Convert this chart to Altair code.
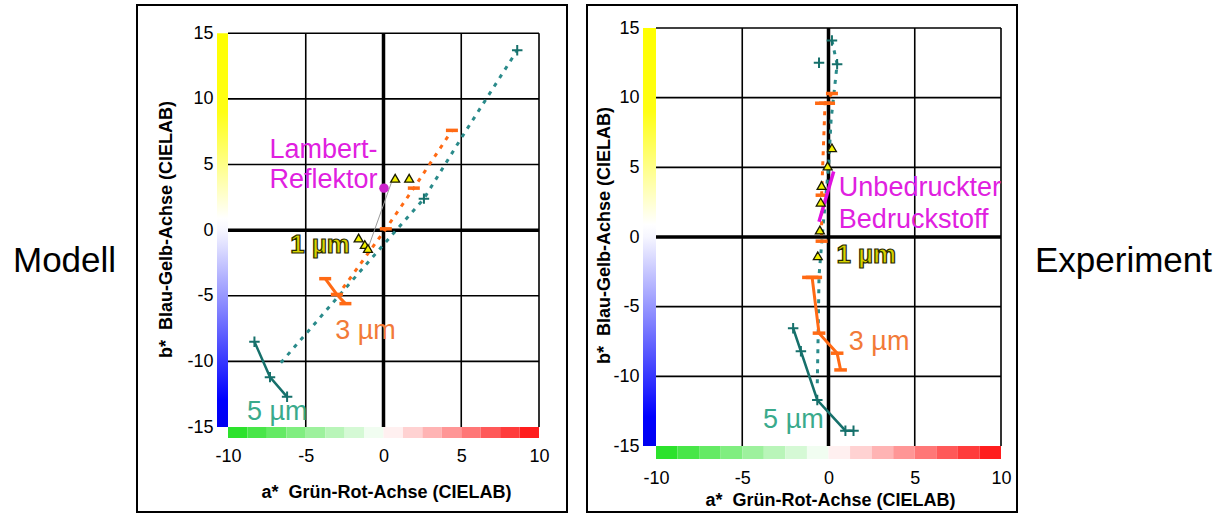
import altair as alt
import pandas as pd

FONT = "Liberation Sans"

# ---------------- Modell (left panel) ----------------
M_TEAL_DOT_A = [-6.6, -2.5, 0.6, 2.6, 5.1, 8.6]
M_TEAL_DOT_B = [-10.1, -4.5, -0.3, 2.4, 7.2, 13.7]
M_TEAL_DOT_PLUS_A = [2.6, 8.6]
M_TEAL_DOT_PLUS_B = [2.4, 13.7]
M_TEAL_A = [-8.3, -7.3, -6.2]
M_TEAL_B = [-8.5, -11.2, -12.7]
M_ORANGE_DOT_A = [-2.6, 0.15, 1.95, 4.4]
M_ORANGE_DOT_B = [-4.4, 0.1, 3.2, 7.6]
M_ORANGE_DOT_MARK_A = [0.15, 1.95, 4.4]
M_ORANGE_DOT_MARK_B = [0.1, 3.2, 7.6]
M_ORANGE_A = [-3.75, -3.0, -2.45]
M_ORANGE_B = [-3.7, -4.9, -5.6]
M_TRI_A = [-1.6, -1.2, -1.0, 0.75, 1.65]
M_TRI_B = [-0.6, -1.1, -1.4, 3.95, 3.95]
M_THIN_A = [-1.0, 0.5]
M_THIN_B = [-1.4, 3.6]
M_LAMBERT_A = [0.03]
M_LAMBERT_B = [3.2]
M_MAG_TEXT = ["Lambert-", "Reflektor"]
M_MAG_TEXT_A = [-7.33, -7.33]
M_MAG_TEXT_B = [5.53, 3.2]
M_1UM_A, M_1UM_B = [-6.0], [-1.75]
M_3UM_A, M_3UM_B = [-3.11], [-8.3]
M_5UM_A, M_5UM_B = [-8.78], [-14.5]

# ---------------- Experiment (right panel) ----------------
E_TEAL_DOT_A = [0.2, 0.5, 0.15, 0.0, -0.3, -0.55, -0.6, -0.65]
E_TEAL_DOT_B = [14.1, 12.4, 8.4, 5.0, 1.0, -2.8, -7.0, -10.5]
E_TEAL_DOT_PLUS_A = [0.2, 0.5, -0.55]
E_TEAL_DOT_PLUS_B = [14.1, 12.4, 12.5]
E_TEAL_A = [-2.05, -1.6, -0.65, 0.98, 1.45]
E_TEAL_B = [-6.55, -8.2, -11.7, -13.9, -13.9]
E_ORANGE_DOT_A = [0.2, -0.2, -0.4, -0.4]
E_ORANGE_DOT_B = [10.3, 9.6, 3.0, -0.3]
E_ORANGE_A = [-0.95, -0.55, 0.5, 0.7]
E_ORANGE_B = [-2.9, -6.9, -8.34, -9.54]
E_ORANGE_WIDE_A = [-0.2, -0.95]
E_ORANGE_WIDE_B = [9.6, -2.9]
E_TRI_A = [0.2, -0.05, -0.4, -0.45, -0.5, -0.62]
E_TRI_B = [6.4, 5.1, 3.7, 2.5, 0.5, -1.35]
E_MAG_A = [-0.55, 0.3]
E_MAG_B = [1.1, 4.7]
E_MAG_TEXT = ["Unbedruckter", "Bedruckstoff"]
E_MAG_TEXT_A = [0.6, 0.6]
E_MAG_TEXT_B = [2.96, 0.68]
E_1UM_A, E_1UM_B = [0.46], [-1.85]
E_3UM_A, E_3UM_B = [1.18], [-8.1]
E_5UM_A, E_5UM_B = [-3.79], [-13.73]

# ---------------- axes / grid / colour bars ----------------
TICKS_A = [-10, -5, 0, 5, 10]
TICKS_B = [-15, -10, -5, 0, 5, 10, 15]
GRID_A = [-5, 5, 10]
GRID_B = [-10, -5, 5, 10, 15]
XBAR_START = [-10, -8.75, -7.5, -6.25, -5, -3.75, -2.5, -1.25,
              0, 1.25, 2.5, 3.75, 5, 6.25, 7.5, 8.75]
XBAR_STEP = 1.25

TEAL = "#16706b"
TEAL_DOT = "#2a8a8a"
ORANGE = "#ff6a14"
MAGENTA = "#e020e0"
PLUS = "M-1,0L1,0M0,-1L0,1"
DASH = "M-1,0L1,0"


def df(a, b):
    return pd.DataFrame({"a": a, "b": b, "i": list(range(len(a)))})


def panel(P):
    W, H = P["w"], P["h"]
    xs = alt.Scale(domain=[-10, 10], nice=False, zero=False)
    ys = alt.Scale(domain=P["ydom"], nice=False, zero=False)
    xax = alt.Axis(values=TICKS_A, ticks=False, domain=False, grid=False,
                   labelFlush=False, labelOverlap=False,
                   labelExpr="'' + datum.value",
                   labelPadding=P["xlabpad"], labelFontSize=18, labelFont=FONT,
                   labelColor="black",
                   title="a*\u00a0 Grün-Rot-Achse (CIELAB)", titleFont=FONT,
                   titleFontSize=18, titleFontWeight="bold", titleColor="black",
                   titleX=P["xtx"], titleY=P["xty"], titleBaseline="alphabetic")
    yax = alt.Axis(values=TICKS_B, ticks=False, domain=False, grid=False,
                   labelFlush=False, labelOverlap=False,
                   labelExpr="'' + datum.value",
                   labelPadding=P["ylabpad"], labelFontSize=18, labelFont=FONT,
                   labelColor="black",
                   title="b*\u00a0 Blau-Gelb-Achse (CIELAB)", titleFont=FONT,
                   titleFontSize=18, titleFontWeight="bold", titleColor="black",
                   titleX=P["ytx"], titleY=P["yty"], titleAngle=270,
                   titleBaseline="alphabetic")

    def X(f="a"):
        return alt.X(f"{f}:Q", scale=xs, axis=xax)

    def Y(f="b"):
        return alt.Y(f"{f}:Q", scale=ys, axis=yax)

    layers = []
    # colour bar along a*
    xb = pd.DataFrame({"a": XBAR_START})
    xb["a2"] = xb["a"] + XBAR_STEP
    xb["c"] = xb["a"] + XBAR_STEP / 2
    layers.append(alt.Chart(xb).mark_rect().encode(
        x=X("a"), x2="a2:Q", y=alt.value(H), y2=alt.value(H + P["barw"]),
        color=alt.Color("c:Q", legend=None,
                        scale=alt.Scale(type="linear", domain=[-10, 0, 10],
                                        interpolate="rgb",
                                        range=["#1ee01e", "#ffffff", "#ff0e0e"]))))
    # colour bar along b*
    grad = alt.LinearGradient(gradient="linear", x1=0, x2=0, y1=0, y2=1, stops=[
        alt.GradientStop(offset=0, color="#ffff00"),
        alt.GradientStop(offset=0.2, color="#ffff14"),
        alt.GradientStop(offset=0.47, color="#ffffff"),
        alt.GradientStop(offset=0.5, color="#f6f6ff"),
        alt.GradientStop(offset=0.93, color="#0000ff"),
        alt.GradientStop(offset=1, color="#0000f0")])
    yb = pd.DataFrame({"b": [15], "b2": [-15]})
    layers.append(alt.Chart(yb).mark_rect(fill=grad).encode(
        y=Y("b"), y2="b2:Q", x=alt.value(-P["barw"]), x2=alt.value(0)))
    # grid
    gv = pd.DataFrame({"a": GRID_A, "lo": -15, "hi": 15})
    gh = pd.DataFrame({"b": GRID_B, "lo": -10, "hi": 10})
    layers.append(alt.Chart(gv).mark_rule(color="black", strokeWidth=1.6).encode(
        x=X("a"), y=Y("lo"), y2="hi:Q"))
    layers.append(alt.Chart(gh).mark_rule(color="black", strokeWidth=1.6).encode(
        y=Y("b"), x=X("lo"), x2="hi:Q"))
    z = pd.DataFrame({"z": [0], "lo": [-15], "hi": [15], "lo2": [-10], "hi2": [10]})
    layers.append(alt.Chart(z).mark_rule(color="black", strokeWidth=3.5).encode(
        x=X("z"), y=Y("lo"), y2="hi:Q"))
    layers.append(alt.Chart(z).mark_rule(color="black", strokeWidth=3.5).encode(
        y=Y("z"), x=X("lo2"), x2="hi2:Q"))

    def line(a, b, color, width, dash=None):
        kw = dict(color=color, strokeWidth=width)
        if dash:
            kw["strokeDash"] = dash
        return alt.Chart(df(a, b)).mark_line(**kw).encode(
            x=X(), y=Y(), order="i:Q")

    def sym(a, b, shape, color, size, width=2):
        return alt.Chart(df(a, b)).mark_point(
            shape=shape, filled=False, color=color, size=size,
            strokeWidth=width, opacity=1).encode(x=X(), y=Y())

    def tri(a, b):
        return alt.Chart(df(a, b)).mark_point(
            shape="triangle-up", filled=True, fill="#f2f000", stroke="#1a1a00",
            strokeWidth=1.3, size=80, opacity=1).encode(x=X(), y=Y())

    def txt(t, a, b, color, bold=False, stroke=None, size=27):
        d = pd.DataFrame({"t": t, "a": a, "b": b})
        kw = dict(align="left", baseline="alphabetic", font=FONT,
                  fontSize=size, color=color)
        if bold:
            kw["fontWeight"] = "bold"
        if stroke:
            kw["stroke"] = stroke
            kw["strokeWidth"] = 1.2
        return alt.Chart(d).mark_text(**kw).encode(x=X(), y=Y(), text="t:N")

    layers += P["content"](line, sym, tri, txt)

    # panel frame, layout anchor, side label
    one = pd.DataFrame({"t": [P["side"]]})
    fx0, fx1 = P["frame_x"]
    layers.append(alt.Chart(one).mark_rect(fill="transparent", stroke="black",
                                           strokeWidth=2).encode(
        x=alt.value(fx0), x2=alt.value(fx1), y=alt.value(-23), y2=alt.value(484)))
    ax0 = P["anchor_x"]
    layers.append(alt.Chart(one).mark_rect(opacity=0).encode(
        x=alt.value(ax0), x2=alt.value(ax0 + 1), y=alt.value(-28), y2=alt.value(487)))
    layers.append(alt.Chart(one).mark_text(
        align="left", baseline="alphabetic", font=FONT, fontSize=35,
        color="black").encode(x=alt.value(P["side_x"]), y=alt.value(244),
                              text="t:N"))
    return alt.layer(*layers).properties(width=W, height=H)


def modell(line, sym, tri, txt):
    return [
        line(M_TEAL_DOT_A, M_TEAL_DOT_B, TEAL_DOT, 3, [4, 6]),
        sym(M_TEAL_DOT_PLUS_A, M_TEAL_DOT_PLUS_B, PLUS, TEAL, 110),
        line(M_ORANGE_DOT_A, M_ORANGE_DOT_B, ORANGE, 3, [4, 6]),
        sym(M_ORANGE_DOT_MARK_A, M_ORANGE_DOT_MARK_B, DASH, ORANGE, 144, 3.5),
        line(M_TEAL_A, M_TEAL_B, TEAL, 2.5),
        sym(M_TEAL_A, M_TEAL_B, PLUS, TEAL, 110),
        line(M_ORANGE_A, M_ORANGE_B, ORANGE, 3),
        sym(M_ORANGE_A, M_ORANGE_B, DASH, ORANGE, 144, 3.5),
        line(M_THIN_A, M_THIN_B, "#9a9a9a", 1),
        alt.Chart(df(M_LAMBERT_A, M_LAMBERT_B)).mark_point(
            shape="circle", filled=True, color="#cc22cc", size=90, opacity=1)
        .encode(x=alt.X("a:Q"), y=alt.Y("b:Q")),
        tri(M_TRI_A, M_TRI_B),
        txt(M_MAG_TEXT, M_MAG_TEXT_A, M_MAG_TEXT_B, MAGENTA),
        txt(["1 µm"], M_1UM_A, M_1UM_B, "#d6d200", bold=True, stroke="#2a2a00", size=26),
        txt(["3 µm"], M_3UM_A, M_3UM_B, "#f27a38"),
        txt(["5 µm"], M_5UM_A, M_5UM_B, "#3aaa8c"),
    ]


def experiment(line, sym, tri, txt):
    return [
        line(E_TEAL_DOT_A, E_TEAL_DOT_B, TEAL_DOT, 3, [4, 6]),
        sym(E_TEAL_DOT_PLUS_A, E_TEAL_DOT_PLUS_B, PLUS, TEAL, 110),
        line(E_ORANGE_DOT_A, E_ORANGE_DOT_B, ORANGE, 3, [4, 6]),
        sym(E_ORANGE_DOT_A, E_ORANGE_DOT_B, DASH, ORANGE, 144, 3.5),
        sym(E_ORANGE_WIDE_A, E_ORANGE_WIDE_B, DASH, ORANGE, 400, 3.5),
        line(E_TEAL_A, E_TEAL_B, TEAL, 2.5),
        sym(E_TEAL_A, E_TEAL_B, PLUS, TEAL, 110),
        line(E_ORANGE_A, E_ORANGE_B, ORANGE, 3),
        sym(E_ORANGE_A, E_ORANGE_B, DASH, ORANGE, 160, 3.5),
        line(E_MAG_A, E_MAG_B, "#e010e0", 3.5),
        tri(E_TRI_A, E_TRI_B),
        txt(E_MAG_TEXT, E_MAG_TEXT_A, E_MAG_TEXT_B, MAGENTA),
        txt(["1 µm"], E_1UM_A, E_1UM_B, "#d6d200", bold=True, stroke="#2a2a00", size=26),
        txt(["3 µm"], E_3UM_A, E_3UM_B, "#f27a38"),
        txt(["5 µm"], E_5UM_A, E_5UM_B, "#3aaa8c"),
    ]


left = panel(dict(w=311, h=399, ydom=[-15, 15.4], barw=11, xlabpad=20, ylabpad=15,
                  xtx=158, xty=70, ytx=-57, yty=201, frame_x=(-91, 339),
                  anchor_x=-228, side="Modell", side_x=-215, content=modell))
right = panel(dict(w=345, h=418, ydom=[-15, 15], barw=13, xlabpad=23, ylabpad=17,
                   xtx=174, xty=59, ytx=-47, yty=207, frame_x=(-69, 361),
                   anchor_x=0, side="Experiment", side_x=379, content=experiment))

chart = alt.hconcat(left, right, spacing=18).properties(
    padding=0, background="white"
).configure_view(strokeWidth=0)

chart.save("out.html", embed_options={"renderer": "svg", "actions": False})
